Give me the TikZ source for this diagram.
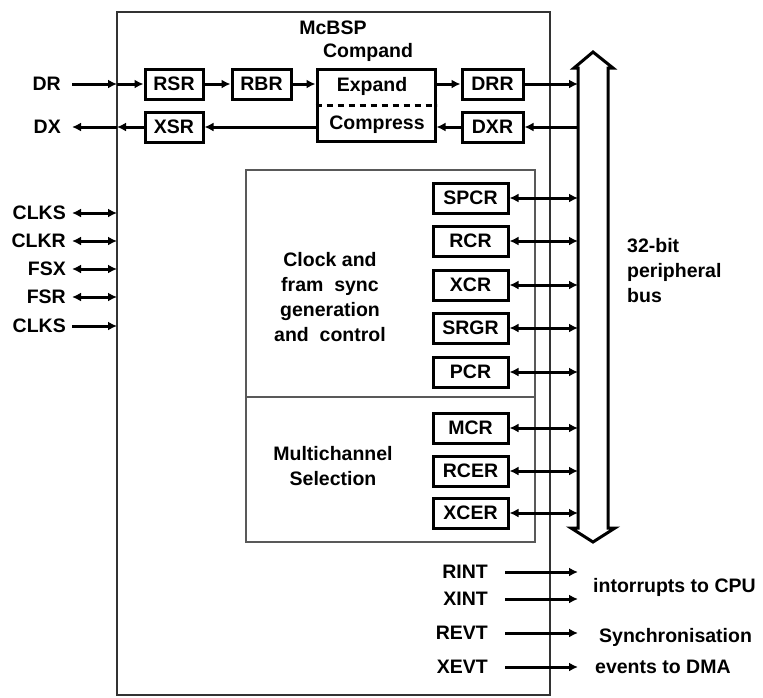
\documentclass[tikz,border=0pt]{standalone}
\usepackage{fontspec}
\setmainfont{Liberation Sans}
\usetikzlibrary{arrows.meta}
\begin{document}
\begin{tikzpicture}[x=1pt,y=-1pt,
  font=\fontsize{19.5}{21}\selectfont\bfseries,
  reg/.style={draw=black,line width=3pt,minimum height=30pt,inner sep=0pt,fill=white},
  lbl/.style={inner sep=0pt},
  tip/.tip={Latex[length=9pt,width=9pt]},
  sig/.style={line width=3pt,-tip},
  dsig/.style={line width=3pt,tip-tip},
  frame/.style={draw=black!80,line width=2.4pt},
  panel/.style={draw=black!65,line width=1.8pt},
  txt/.style={align=center,inner sep=0pt,font=\fontsize{19.5}{25}\selectfont\bfseries},
]
\useasboundingbox (0,0) rectangle (763,697);

% main McBSP box
\draw[frame] (117,12) rectangle (550,695);
\coordinate (mainL) at (117,12);
\coordinate (busL) at (578,0);

% inner panel
\draw[panel] (246,170) rectangle (535,542);
\draw[panel] (246,397) -- (535,397);

% titles
\node[lbl] (title) at (333,28) {McBSP};
\node[lbl] (cmpt) at (368,52) {Compand};

% compand box
\node[draw=black,line width=3pt,minimum width=118pt,minimum height=72pt,inner sep=0pt] (cmp) at (376,105) {};
\draw[line width=3pt,dash pattern=on 6pt off 5pt] (cmp.west) -- (cmp.east);
\node[lbl] (exp) at (372,86) {Expand};
\node[lbl] (com) at (377,125) {Compress};

% data path registers
\node[reg,minimum width=58pt] (rsr) at (174,84) {RSR};
\node[reg,minimum width=59pt] (rbr) at (261.5,84) {RBR};
\node[reg,minimum width=58pt] (xsr) at (174,127) {XSR};
\node[reg,minimum width=61pt] (drr) at (492.5,84) {DRR};
\node[reg,minimum width=61pt] (dxr) at (492.5,127) {DXR};

% DR / DX
\node[lbl,anchor=east] (dr) at (61,84) {DR};
\node[lbl,anchor=east] (dx) at (61,127) {DX};

\draw[sig] ([xshift=11pt]dr.east) -- (dr.east -| mainL);
\draw[sig] (dr.east -| mainL) -- (rsr);
\draw[sig] (rsr) -- (rbr);
\draw[sig] (rbr) -- (rbr -| cmp.west);
\draw[sig] (cmp.east |- drr) -- (drr);
\draw[sig] (drr) -- (drr -| busL);
\draw[sig] (dxr -| busL) -- (dxr);
\draw[sig] (dxr) -- (dxr -| cmp.east);
\draw[sig] (xsr -| cmp.west) -- (xsr);
\draw[sig] (xsr) -- (xsr -| mainL);
\draw[sig] (xsr -| mainL) -- ([xshift=11pt]dx.east);

% control registers
\node[reg,minimum width=75pt] (spcr) at (470.5,198) {SPCR};
\node[reg,minimum width=75pt] (rcr)  at (470.5,241) {RCR};
\node[reg,minimum width=75pt] (xcr)  at (470.5,285) {XCR};
\node[reg,minimum width=75pt] (srgr) at (470.5,328) {SRGR};
\node[reg,minimum width=75pt] (pcr)  at (470.5,372) {PCR};
\node[reg,minimum width=75pt] (mcr)  at (470.5,428) {MCR};
\node[reg,minimum width=75pt] (rcer) at (470.5,471) {RCER};
\node[reg,minimum width=75pt] (xcer) at (470.5,513) {XCER};

\foreach \r in {spcr,rcr,xcr,srgr,pcr,mcr,rcer,xcer}
  \draw[dsig] (\r) -- (\r -| busL);

% panel texts
\node[txt] (clk) at (330,297) {Clock and\\fram~~sync\\generation\\and~~control};
\node[txt] (mch) at (333,466) {Multichannel\\Selection};

% bus
\draw[line width=3pt,line join=miter,fill=white]
  (578,528) -- (578,68) -- (574,68) -- (593,52) -- (613,68) -- (608,68)
  -- (608,528) -- (615,528) -- (593,542) -- (571,528) -- cycle;
\node[lbl,anchor=north west,align=left,font=\fontsize{19.5}{25}\selectfont\bfseries] (busl) at (627,238) {32-bit\\peripheral\\bus};

% left clock / frame signals
\node[lbl,anchor=east] (clks1) at (66,213) {CLKS};
\node[lbl,anchor=east] (clkr)  at (66,241) {CLKR};
\node[lbl,anchor=east] (fsx)   at (66,269) {FSX};
\node[lbl,anchor=east] (fsr)   at (66,297) {FSR};
\node[lbl,anchor=east] (clks2) at (66,326) {CLKS};
\foreach \s in {clks1,clkr,fsx,fsr}
  \draw[dsig] ([xshift=6pt]\s.east) -- (\s.east -| mainL);
\draw[sig] ([xshift=6pt]clks2.east) -- (clks2.east -| mainL);

% bottom signals
\node[lbl,anchor=east] (rint) at (488,572) {RINT};
\node[lbl,anchor=east] (xint) at (488,599) {XINT};
\node[lbl,anchor=east] (revt) at (488,633) {REVT};
\node[lbl,anchor=east] (xevt) at (488,667) {XEVT};
\foreach \s in {rint,xint,revt,xevt}
  \draw[sig] ([xshift=17pt]\s.east) -- (\s.east -| busL);

\node[lbl,anchor=west] (irq) at (593,587) {intorrupts to CPU};
\node[lbl,anchor=west] (sync) at (599,637) {Synchronisation};
\node[lbl,anchor=west] (dma) at (595,667) {events to DMA};
\end{tikzpicture}
\end{document}
